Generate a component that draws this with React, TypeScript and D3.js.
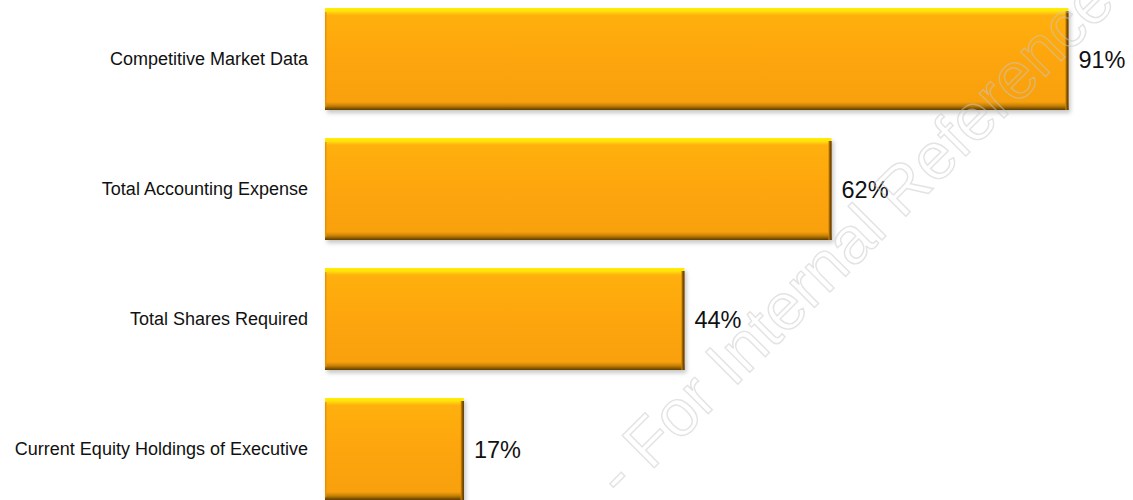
import React from "react";
import * as d3 from "d3";

const categories = [
  "Competitive Market Data",
  "Total Accounting Expense",
  "Total Shares Required",
  "Current Equity Holdings of Executive",
];
const values = [91, 62, 44, 17];
const valueLabels = ["91%", "62%", "44%", "17%"];

const W = 1133;
const H = 500;

export default function App() {
  const x = d3.scaleLinear().domain([0, 100]).range([325, 1142]);
  const y = d3
    .scaleBand<string>()
    .domain(categories)
    .range([-6, 514])
    .paddingInner(0.2154)
    .paddingOuter(0.1077);
  const bw = y.bandwidth();
  const font = "'Liberation Sans', Arial, Helvetica, sans-serif";

  return (
    <svg
      width={W}
      height={H}
      style={{ position: "absolute", left: 0, top: 0, background: "#fff" }}
      fontFamily={font}
    >
      <defs>
        <linearGradient id="barFill" x1="0" y1="0" x2="0" y2="1">
          <stop offset="0%" stopColor="#FFF000" />
          <stop offset="3%" stopColor="#FFE20A" />
          <stop offset="7%" stopColor="#FFB00E" />
          <stop offset="50%" stopColor="#FDA511" />
          <stop offset="92%" stopColor="#F8A10C" />
          <stop offset="96%" stopColor="#C47E05" />
          <stop offset="100%" stopColor="#5A3C00" />
        </linearGradient>
        <linearGradient id="rightEdge" x1="0" y1="0" x2="1" y2="0">
          <stop offset="0%" stopColor="#F5A00C" stopOpacity="0" />
          <stop offset="45%" stopColor="#A86A00" />
          <stop offset="100%" stopColor="#4A3000" />
        </linearGradient>
        <filter id="shadow" x="-5%" y="-10%" width="115%" height="130%">
          <feDropShadow dx="2" dy="3" stdDeviation="2" floodColor="#808080" floodOpacity="0.45" />
        </filter>
      </defs>

      {categories.map((c, i) => {
        const y0 = y(c)!;
        const x0 = x(0);
        const x1 = x(values[i]);
        return (
          <g key={c}>
            <rect
              x={x0}
              y={y0}
              width={x1 - x0}
              height={bw}
              fill="url(#barFill)"
              filter="url(#shadow)"
            />
            <rect x={x1 - 4} y={y0 + 3} width={4} height={bw - 3} fill="url(#rightEdge)" />
            <rect x={x0} y={y0 + 4} width={1.5} height={bw - 7} fill="#E38F00" opacity={0.8} />
            <text
              x={x0 - 17}
              y={y0 + bw / 2}
              textAnchor="end"
              dominantBaseline="central"
              fontSize={18}
              fill="#111"
            >
              {c}
            </text>
            <text
              x={x1 + 10}
              y={y0 + bw / 2 + 1}
              dominantBaseline="central"
              fontSize={23.5}
              fill="#111"
            >
              {valueLabels[i]}
            </text>
          </g>
        );
      })}

      <text
        transform="translate(622,500) rotate(-45)"
        fontSize={66}
        fill="none"
        stroke="#c8c8c8"
        strokeWidth={1.4}
        strokeOpacity={0.5}
      >
        - For Internal Reference
      </text>
    </svg>
  );
}
